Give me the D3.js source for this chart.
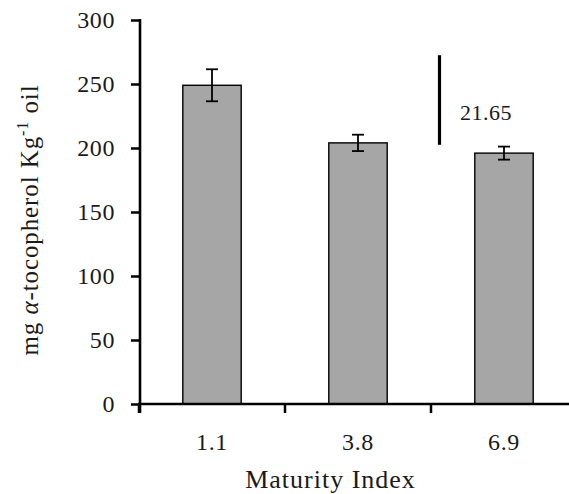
<!DOCTYPE html>
<html>
<head>
<meta charset="utf-8">
<script src="https://cdn.jsdelivr.net/npm/d3@7/dist/d3.min.js"></script>
<style>
  html, body { margin: 0; padding: 0; background: #fff; }
  svg { display: block; }
  text { font-family: "Liberation Serif", serif; fill: #1a1a1a; }
</style>
</head>
<body>
<script>
// Tocopherol content by olive maturity index
const categories = ["1.1", "3.8", "6.9"];
const means = [249, 204, 196];
const errors = [12.5, 6.4, 5.1];
const yTicks = [0, 50, 100, 150, 200, 250, 300];
// Least significant difference bar
const lsdLabel = "21.65";
const lsdTop = 272.5;
const lsdBottom = 202.5;

const W = 569, H = 494;
const svg = d3.select("body").append("svg").attr("width", W).attr("height", H);

const y = d3.scaleLinear().domain([0, 300]).range([404, 20]);
const x = d3.scaleBand().domain(categories).range([139, 577])
  .paddingInner(0.6).paddingOuter(0.3);

const data = categories.map((c, i) => ({ c, m: means[i], e: errors[i] }));

// bars
svg.append("g").selectAll("rect").data(data).join("rect")
  .attr("x", d => x(d.c))
  .attr("y", d => y(d.m))
  .attr("width", x.bandwidth())
  .attr("height", d => y(0) - y(d.m))
  .attr("fill", "#a6a6a6")
  .attr("stroke", "#000")
  .attr("stroke-width", 1.4);

// error bars
const eb = svg.append("g").attr("stroke", "#000").attr("stroke-width", 1.8);
data.forEach(d => {
  const cx = x(d.c) + x.bandwidth() / 2;
  eb.append("line").attr("x1", cx).attr("x2", cx).attr("y1", y(d.m + d.e)).attr("y2", y(d.m - d.e));
  [d.m + d.e, d.m - d.e].forEach(v => {
    eb.append("line").attr("x1", cx - 6).attr("x2", cx + 6).attr("y1", y(v)).attr("y2", y(v));
  });
});

// y axis
const yAxis = svg.append("g").attr("transform", "translate(140,0)")
  .call(d3.axisLeft(y).tickValues(yTicks).tickSize(9).tickPadding(16).tickSizeOuter(0));
yAxis.select(".domain").remove();
yAxis.selectAll(".tick line").attr("stroke", "#000").attr("stroke-width", 2.5);
yAxis.selectAll(".tick text").attr("font-size", 24).attr("font-family", "Liberation Serif")
  .attr("fill", "#1a1a1a").attr("letter-spacing", 0.6);
svg.append("line").attr("x1", 140).attr("x2", 140).attr("y1", y(300) - 1).attr("y2", 413)
  .attr("stroke", "#000").attr("stroke-width", 2.6);

// x axis
svg.append("line").attr("x1", 138).attr("x2", 580).attr("y1", y(0)).attr("y2", y(0))
  .attr("stroke", "#000").attr("stroke-width", 2.6);
const bounds = categories.map(c => x(c) - x.step() * x.paddingInner() / 2);
bounds[0] = x.range()[0];
svg.append("g").selectAll("line").data(bounds).join("line")
  .attr("x1", d => d).attr("x2", d => d)
  .attr("y1", y(0)).attr("y2", y(0) + 9)
  .attr("stroke", "#000").attr("stroke-width", 2.5);
svg.append("g").selectAll("text").data(categories).join("text")
  .attr("x", d => x(d) + x.bandwidth() / 2)
  .attr("y", 449.5)
  .attr("text-anchor", "middle")
  .attr("font-size", 24)
  .attr("letter-spacing", 0.6)
  .text(d => d);

// axis titles
svg.append("text").attr("x", 330.5).attr("y", 488).attr("text-anchor", "middle")
  .attr("font-size", 26).attr("letter-spacing", 1).text("Maturity Index");

const yt = svg.append("text").attr("transform", "translate(38,220) rotate(-90)")
  .attr("text-anchor", "middle").attr("font-size", 25).attr("letter-spacing", 0.9);
yt.append("tspan").text("mg ");
yt.append("tspan").attr("font-style", "italic").text("α");
yt.append("tspan").text("-tocopherol Kg");
yt.append("tspan").attr("font-size", 16).attr("dy", -10).text("-1");
yt.append("tspan").attr("dy", 10).text(" oil");

// LSD marker
svg.append("line").attr("x1", 439.5).attr("x2", 439.5)
  .attr("y1", y(lsdTop)).attr("y2", y(lsdBottom))
  .attr("stroke", "#000").attr("stroke-width", 3.2);
svg.append("text").attr("x", 460).attr("y", 119.5).attr("font-size", 22)
  .attr("letter-spacing", 0.5).text(lsdLabel);
</script>
</body>
</html>
